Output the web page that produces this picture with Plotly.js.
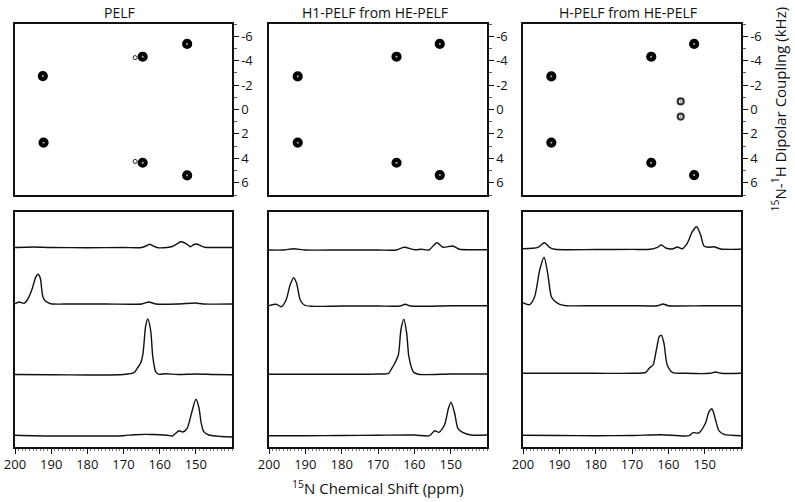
<!DOCTYPE html>
<html>
<head>
<meta charset="utf-8">
<script src="https://cdn.plot.ly/plotly-3.0.1.min.js"></script>
<style>html,body{margin:0;padding:0;background:#fff;}#chart{width:795px;height:502px;}</style>
</head>
<body>
<div id="chart"></div>
<script>
// ---------- DATA ----------
const panelTitles = ["PELF", "H1-PELF from HE-PELF", "H-PELF from HE-PELF"];
const xTickVals = [200, 190, 180, 170, 160, 150];
const yTickVals = [-6, -4, -2, 0, 2, 4, 6];
const yTickText = ["-6", "-4", "-2", "0", "2", "4", "6"];

// 2D PELF correlation peaks: [15N shift (ppm), dipolar coupling (kHz)]
const pelfPeaks2D = [[192.3,-2.74],[164.7,-4.32],[152.4,-5.37],[192.1,2.71],[164.7,4.36],[152.4,5.40]];
const pelfSatellites2D = [[166.8,-4.25],[166.8,4.25]];
const h1PeaksFromHE2D = [[192.1,-2.71],[164.9,-4.32],[153.0,-5.37],[192.1,2.71],[164.9,4.36],[153.0,5.37]];
const hPeaksFromHE2D = [[192.2,-2.71],[164.7,-4.32],[152.9,-5.37],[192.2,2.71],[164.7,4.36],[152.9,5.37]];
const hWeakPeaksFromHE2D = [[156.6,-0.66],[156.6,0.58]];

// 1D slices (stacked): [ppm, intensity in arbitrary stacked units]
const pelfSlice1 = [[200,199.5],[195,200],[190,199.5],[180,199.3],[170,199.5],[165,199.5],[163.5,201.5],[162.8,202.7],[162,201.5],[160.5,199.3],[158,199.5],[156.5,200.5],[155,203.5],[154.2,205.3],[153,204],[152,201.5],[151.5,200.3],[150.5,202.5],[149.8,203],[148.8,201.5],[147.5,199.8],[145,199.5],[140,199.5]];
const pelfSlice2 = [[200,143.3],[198.9,145],[197.5,143.7],[196.6,147],[195.2,158.7],[194.3,169.7],[193.6,172.7],[193.0,168.7],[192.3,150.3],[191.5,145.7],[190.1,143.3],[185,143],[175,143],[165,143],[163,145],[161,143],[155,143],[150,144],[148,143],[140,143]];
const pelfSlice3 = [[200,72.5],[190,72.3],[180,72],[170,72.5],[167.1,74.3],[166.2,78.7],[165.3,83.7],[164.6,93.7],[163.9,120.3],[163.3,128],[162.5,117],[161.9,90.3],[161.1,75.3],[160.2,72.7],[158.5,73.3],[155,72.5],[150,73],[145,72.5],[140,72.3]];
const pelfSlice4 = [[200,11.7],[190,11],[180,11],[170,11.3],[167,12.3],[162,12.5],[158,11.7],[156.5,11],[155.6,13.7],[154.6,16.3],[153.6,15],[152.4,18.7],[151.2,33.7],[150.0,47.7],[149.2,40.3],[148.5,23.7],[147.8,15.3],[146.4,12],[143,10.5],[140,10]];

const h1Slice1 = [[200,197],[196,197],[193.2,198.3],[190,197],[180,197],[170,197],[165,197],[162.8,199.7],[160,197.3],[158,197.7],[156,197],[153.8,204.3],[152.1,199.7],[149.4,201],[147.6,197.7],[144,197.3],[140,197.3]];
const h1Slice2 = [[200,141.3],[198,142.7],[196.6,140.3],[195.3,147],[194.2,162],[193.2,169.3],[192.4,163.7],[191.4,147],[190.3,142],[188.5,140.7],[180,141],[170,141],[164,141],[162.5,142.7],[161,141],[150,141.3],[140,141.3]];
const h1Slice3 = [[200,72.7],[190,72.7],[180,72.7],[170,73],[167.1,73.7],[166.2,78.7],[165.5,83],[164.4,92],[163.7,117],[162.9,127.7],[162.1,113.7],[161.5,90.3],[160.3,75.3],[158.9,72.7],[150,73],[140,73]];
const h1Slice4 = [[200,11.3],[190,11.3],[180,11.5],[170,11.8],[160,12],[155.8,11.3],[154.4,16.3],[153.2,14.7],[151.7,22],[150.6,38.7],[149.9,44.7],[148.9,33.7],[148.0,18.7],[146.7,14.7],[144.4,12],[140,12]];

const hSlice1 = [[200,198.3],[195.9,199.7],[194.1,204.3],[192.7,199.7],[191.3,197.7],[180,197.5],[170,197.6],[165,197.7],[163,199.7],[161.9,202],[160.7,199],[158.9,198],[157.5,200],[156.2,198.3],[154.8,203.7],[153.4,215.3],[152.2,220.3],[151.1,212],[150.2,201],[148.8,199.7],[147.5,200.3],[145.6,198],[140,197.7]];
const hSlice2 = [[200,144.3],[198.2,142.3],[196.8,150.3],[195.4,177],[194.2,189.7],[193.2,173.7],[192.2,150.3],[191.3,146],[189.9,142.7],[188.1,141.3],[180,141.3],[170,141.3],[163,141.3],[161.5,143],[160,141.3],[150,141.3],[140,141.3]];
const hSlice3 = [[200,73.7],[190,73.7],[180,73.7],[170,73.7],[166.2,74.7],[165.3,78.7],[164.2,82],[163.3,97],[162.5,110.3],[161.9,111.7],[161.2,103.7],[160.3,82],[158.9,74.7],[155,73.7],[148.5,73.7],[147,75],[145.5,73.7],[140,73.7]];
const hSlice4 = [[200,11.7],[190,11.5],[180,11.3],[170,11.5],[162,12.3],[154.3,11.3],[153.2,14.3],[151.6,14],[149.8,23.7],[148.8,35.3],[148.0,38.3],[147.0,27],[146.1,16.3],[144.7,12.7],[140,11.3]];

const panelSlices = [
  [pelfSlice1, pelfSlice2, pelfSlice3, pelfSlice4],
  [h1Slice1, h1Slice2, h1Slice3, h1Slice4],
  [hSlice1, hSlice2, hSlice3, hSlice4]
];

// ---------- LAYOUT HELPERS ----------
const W = 795, H = 502;
const px = v => v / W;
const py = v => 1 - v / H;
const xDomains = [[px(15), px(232)], [px(269), px(487)], [px(523), px(741)]];
const topDom = [py(195), py(24)];
const botDom = [py(447), py(212)];
const FONT = "Open Sans, Noto Sans, sans-serif";

const traces = [];
function peakTraces(pts, axis, opts) {
  const x = pts.map(p => p[0]), y = pts.map(p => p[1]);
  traces.push({type:'scatter', mode:'markers', x, y, xaxis:'x'+axis, yaxis:'y'+axis, hoverinfo:'skip',
    marker:{symbol:'circle', size:opts.size, color:'white', line:{color:opts.color, width:opts.lw}}});
  if (opts.dot) traces.push({type:'scatter', mode:'markers', x, y, xaxis:'x'+axis, yaxis:'y'+axis, hoverinfo:'skip',
    marker:{symbol:'circle', size:opts.dot, color:'#888'}});
}
peakTraces(pelfSatellites2D, '', {size:4, lw:1, color:'#222'});
peakTraces(pelfPeaks2D, '', {size:6, lw:4.2, color:'black', dot:1.8});
peakTraces(h1PeaksFromHE2D, '2', {size:6, lw:4.2, color:'black', dot:1.8});
peakTraces(hPeaksFromHE2D, '3', {size:6, lw:4.2, color:'black', dot:1.8});
peakTraces(hWeakPeaksFromHE2D, '3', {size:6, lw:2.2, color:'#333', dot:2});

panelSlices.forEach((slices, i) => {
  const ax = String(i + 4);
  slices.forEach(s => {
    traces.push({type:'scatter', mode:'lines', x:s.map(p=>p[0]), y:s.map(p=>p[1]),
      xaxis:'x'+ax, yaxis:'y'+ax, hoverinfo:'skip',
      line:{color:'#111', width:1.4, shape:'spline', smoothing:0.7}});
  });
});

const layout = {
  width: W, height: H, margin:{l:0, r:0, t:0, b:0},
  paper_bgcolor:'white', plot_bgcolor:'white', showlegend:false,
  font:{family:FONT, size:13, color:'#111'},
  annotations: []
};

for (let i = 0; i < 3; i++) {
  const t = i === 0 ? '' : String(i + 1);
  const b = String(i + 4);
  const lineStyle = {showline:true, mirror:true, linecolor:'#111', linewidth:1.6, showgrid:false, zeroline:false};
  layout['xaxis' + t] = Object.assign({}, lineStyle, {domain:xDomains[i], anchor:'y'+t, range:[200,140],
    ticks:'', showticklabels:false});
  layout['yaxis' + t] = Object.assign({}, lineStyle, {domain:topDom, anchor:'x'+t, range:[7,-7], side:'right',
    ticks:'outside', ticklen:5, tickwidth:1, tickcolor:'#111', tickmode:'array', tickvals:yTickVals, ticktext:yTickText,
    tickfont:{family:FONT, size:13, color:'#111'},
    minor:{tickmode:'linear', tick0:1, dtick:2, ticks:'outside', ticklen:3, tickwidth:0.8, tickcolor:'#333'}});
  layout['xaxis' + b] = Object.assign({}, lineStyle, {domain:xDomains[i], anchor:'y'+b, range:[200,140],
    ticks:'outside', ticklen:5, tickwidth:1, tickcolor:'#111', tickmode:'array', tickvals:xTickVals,
    ticktext:xTickVals.map(String), tickfont:{family:FONT, size:13, color:'#111'},
    minor:{tickmode:'linear', tick0:0, dtick:1, ticks:'outside', ticklen:2.5, tickwidth:0.7, tickcolor:'#444'}});
  layout['yaxis' + b] = Object.assign({}, lineStyle, {domain:botDom, anchor:'x'+b, range:[0,235],
    ticks:'', showticklabels:false});
}

const titleX = [119, 375, 628];
panelTitles.forEach((txt, i) => {
  layout.annotations.push({text:txt, x:px(titleX[i]), y:py(13), xref:'paper', yref:'paper',
    xanchor:'center', yanchor:'middle', showarrow:false, font:{family:FONT, size:14, color:'#111'}});
});
layout.annotations.push({text:'<sup>15</sup>N Chemical Shift (ppm)', x:px(377.5), y:py(487), xref:'paper', yref:'paper',
  xanchor:'center', yanchor:'middle', showarrow:false, font:{family:FONT, size:15, color:'#111'}});
layout.annotations.push({text:'<sup>15</sup>N-<sup>1</sup>H Dipolar Coupling (kHz)', x:px(779), y:py(109.5), xref:'paper', yref:'paper',
  xanchor:'center', yanchor:'middle', textangle:-90, showarrow:false, font:{family:FONT, size:15, color:'#111'}});

Plotly.newPlot('chart', traces, layout, {staticPlot:true, displayModeBar:false});
</script>
</body>
</html>
